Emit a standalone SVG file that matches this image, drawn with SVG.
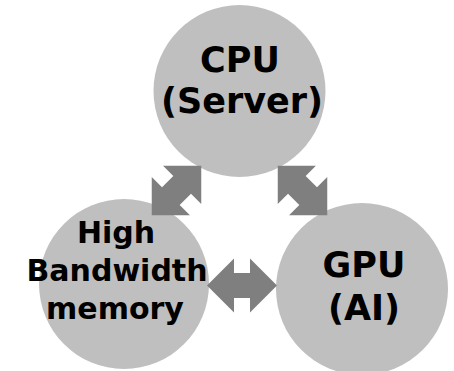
<svg xmlns="http://www.w3.org/2000/svg" width="454" height="371" viewBox="0 0 454 371">
  <defs>
    <style>
      .node { fill: #bfbfbf; }
      .arrow { fill: #7f7f7f; }
      .lbl { font-family: "DejaVu Sans", "Noto Sans", sans-serif; font-weight: bold; fill: #000; text-anchor: middle; }
      .big { font-size: 35px; }
      .small { font-size: 30px; }
    </style>
    <path id="dblarrow" d="M-35,0 L-8,-27 L-8,-12.5 L8,-12.5 L8,-27 L35,0 L8,27 L8,12.5 L-8,12.5 L-8,27 Z"/>
  </defs>
  <rect width="454" height="371" fill="#ffffff"/>
  <g id="cpu">
    <circle class="node" cx="239.5" cy="91" r="86"/>
    <text class="lbl big" x="240" y="72">CPU</text>
    <text class="lbl big" x="242" y="113">(Server)</text>
  </g>
  <g id="hbm">
    <circle class="node" cx="124" cy="284" r="85"/>
    <text class="lbl small" x="116" y="243">High</text>
    <text class="lbl small" x="117" y="281">Bandwidth</text>
    <text class="lbl small" x="115" y="319">memory</text>
  </g>
  <g id="gpu">
    <circle class="node" cx="362" cy="289" r="86"/>
    <text class="lbl big" x="364" y="277">GPU</text>
    <text class="lbl big" x="364" y="320">(AI)</text>
  </g>
  <g id="connectors">
    <use href="#dblarrow" class="arrow" transform="translate(176.5,190.5) rotate(-45)"/>
    <use href="#dblarrow" class="arrow" transform="translate(302.5,190.5) rotate(45)"/>
    <use href="#dblarrow" class="arrow" transform="translate(242,285.5)"/>
  </g>
</svg>
